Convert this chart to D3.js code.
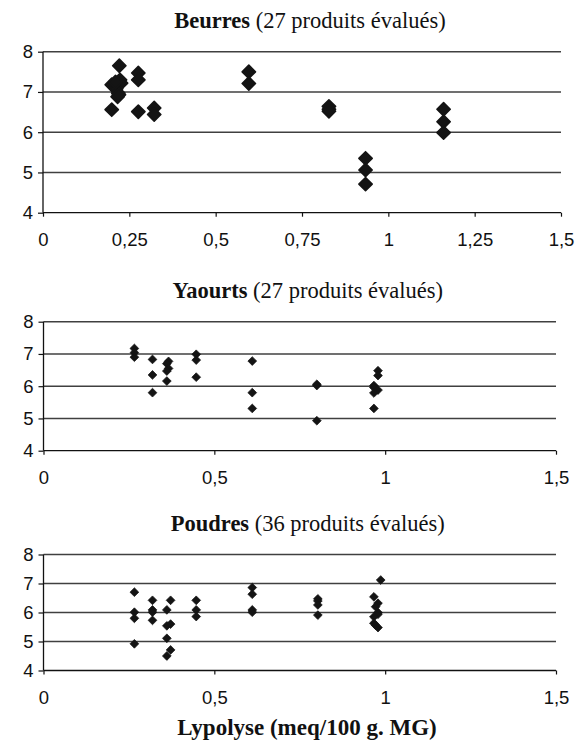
<!DOCTYPE html>
<html><head><meta charset="utf-8">
<script src="https://cdn.jsdelivr.net/npm/d3@7"></script>
<style>body{margin:0;background:#fff}</style>
</head><body>
<script>
// ---- Data ----
const yTicks = [4, 5, 6, 7, 8];
const xTicksBeurres = [0, 0.25, 0.5, 0.75, 1, 1.25, 1.5];
const xTicksOthers = [0, 0.5, 1, 1.5];

const titleBold = ["Beurres", "Yaourts", "Poudres"];
const titleRest = [" (27 produits évalués)", " (27 produits évalués)", " (36 produits évalués)"];
const xAxisTitle = "Lypolyse (meq/100 g. MG)";

const beurresX = [0.221,0.199,0.205,0.223,0.226,0.212,0.218,0.216,0.220,0.210,0.199,
  0.276,0.276,0.276,0.322,0.322,0.596,0.596,0.828,0.828,0.828,0.934,0.934,0.934,1.160,1.160,1.160];
const beurresY = [7.65,7.18,7.15,7.30,7.22,7.08,6.97,6.88,6.93,7.25,6.56,
  7.47,7.30,6.51,6.60,6.44,7.50,7.21,6.64,6.57,6.52,5.35,5.06,4.71,6.57,6.26,5.99];

const yaourtsX = [0.266,0.266,0.266,0.319,0.319,0.319,0.366,0.361,0.366,0.361,0.361,
  0.447,0.447,0.447,0.611,0.611,0.611,0.800,0.800,0.800,0.979,0.979,0.967,0.967,0.979,0.967,0.967];
const yaourtsY = [7.17,7.04,6.90,6.83,6.35,5.80,6.77,6.70,6.55,6.47,6.16,
  6.99,6.81,6.28,6.78,5.80,5.31,6.06,6.02,4.93,6.48,6.33,6.02,5.96,5.88,5.79,5.31];

const poudresX = [0.266,0.266,0.266,0.266,0.319,0.319,0.319,0.319,
  0.361,0.372,0.361,0.372,0.361,0.372,0.361,0.447,0.447,0.447,
  0.611,0.611,0.611,0.611,0.803,0.803,0.803,0.803,0.987,
  0.967,0.979,0.972,0.979,0.979,0.967,0.967,0.972,0.979];
const poudresY = [6.70,6.01,5.80,4.92,6.42,6.09,6.01,5.73,
  6.09,6.42,5.54,5.60,5.11,4.71,4.50,6.42,6.09,5.86,
  6.86,6.63,6.09,6.01,6.47,6.40,6.26,5.91,7.12,
  6.54,6.32,6.20,6.00,5.94,5.85,5.63,5.56,5.48];

// ---- Layout ----
const W = 584, H = 746;
const panels = [
  {xs: beurresX, ys: beurresY, ticks: xTicksBeurres, x0: 43, x1: 561, yTop: 51.7, yBot: 212.7, side: 9.4, stroke: 1.6},
  {xs: yaourtsX, ys: yaourtsY, ticks: xTicksOthers, x0: 43.5, x1: 556, yTop: 321.7, yBot: 450.7, side: 6.2, stroke: 0.7},
  {xs: poudresX, ys: poudresY, ticks: xTicksOthers, x0: 43.5, x1: 556, yTop: 554.5, yBot: 670.5, side: 6.2, stroke: 0.7}
];

const svg = d3.select("body").append("svg").attr("width", W).attr("height", H);
const fmt = d => String(d).replace(".", ",");
const sans = "'Liberation Sans', Arial, sans-serif";
const serif = "'Liberation Serif', 'Times New Roman', serif";

panels.forEach((p, i) => {
  const x = d3.scaleLinear().domain([0, 1.5]).range([p.x0, p.x1]);
  const y = d3.scaleLinear().domain([4, 8]).range([p.yBot, p.yTop]);
  const g = svg.append("g");

  // title
  const t = g.append("text").attr("x", (p.x0 + p.x1) / 2 + 8).attr("y", p.yTop - 24)
    .attr("text-anchor", "middle").attr("font-family", serif).attr("font-size", 22.5).attr("fill", "#111");
  t.append("tspan").attr("font-weight", "bold").text(titleBold[i]);
  t.append("tspan").text(titleRest[i]);

  // gridlines
  g.selectAll("line.grid").data(yTicks.filter(v => v > 4)).join("line")
    .attr("x1", x(0)).attr("x2", x(1.5)).attr("y1", d => y(d)).attr("y2", d => y(d))
    .attr("stroke", "#404040").attr("stroke-width", 1.5);

  // y axis
  const ya = g.append("g").attr("transform", `translate(${x(0)},0)`)
    .call(d3.axisLeft(y).tickValues(yTicks).tickSize(5).tickPadding(5).tickFormat(fmt));
  ya.select(".domain").attr("stroke", "#111").attr("stroke-width", 1.3).attr("d", `M-0,${y(8)}V${y(4)}`);
  ya.selectAll(".tick line").attr("stroke", "#111").attr("stroke-width", 1.2);
  ya.selectAll(".tick text").attr("font-family", sans).attr("font-size", 18.5).attr("fill", "#111");

  // x axis
  const xa = g.append("g").attr("transform", `translate(0,${y(4)})`)
    .call(d3.axisBottom(x).tickValues(p.ticks).tickSize(4).tickPadding(16).tickFormat(fmt));
  xa.select(".domain").attr("stroke", "#111").attr("stroke-width", 1.3).attr("d", `M${x(0)},0H${x(1.5)}`);
  xa.selectAll(".tick line").attr("stroke", "#111").attr("stroke-width", 1.2);
  xa.selectAll(".tick text").attr("font-family", sans).attr("font-size", 18.5).attr("fill", "#111");

  // markers
  const sym = d3.symbol().type(d3.symbolSquare).size(p.side * p.side);
  g.selectAll("path.pt").data(p.xs.map((v, k) => [v, p.ys[k]])).join("path")
    .attr("class", "pt")
    .attr("d", sym)
    .attr("transform", d => `translate(${x(d[0])},${y(d[1])}) rotate(45)`)
    .attr("fill", "#141414").attr("stroke", "#141414")
    .attr("stroke-width", p.stroke).attr("stroke-linejoin", "round");
});

// bottom axis title
svg.append("text").attr("x", 307).attr("y", 735).attr("text-anchor", "middle")
  .attr("font-family", serif).attr("font-size", 23).attr("font-weight", "bold").attr("fill", "#111")
  .text(xAxisTitle);
</script>
</body></html>
